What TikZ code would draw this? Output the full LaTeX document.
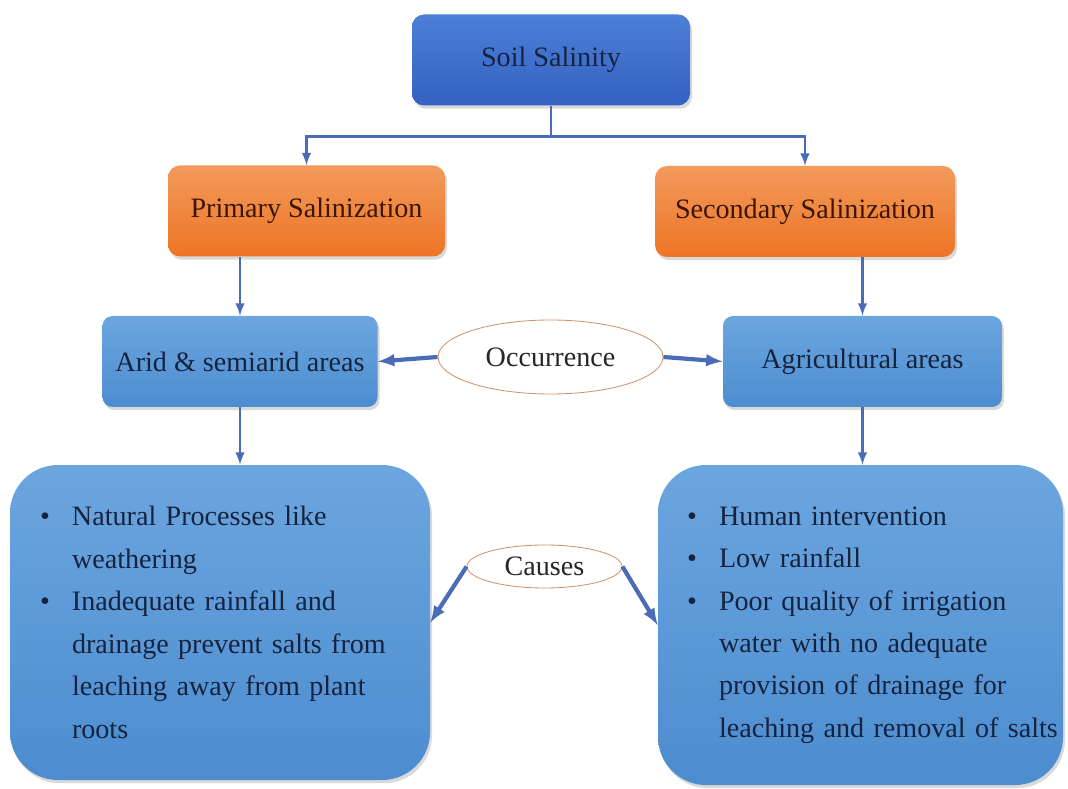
\documentclass[tikz,border=0pt]{standalone}
\usepackage{fontspec}
\setmainfont{Liberation Serif}
\usepackage{tikz}
\usetikzlibrary{arrows,shapes.geometric,shadows,calc}

\definecolor{linkblue}{HTML}{4A6CB8}
\definecolor{navy}{HTML}{16233F}
\definecolor{rust}{HTML}{3A1604}
\definecolor{rimorange}{HTML}{D39467}
\definecolor{roottop}{HTML}{4C7FD8}
\definecolor{rootbot}{HTML}{3461C2}
\definecolor{typetop}{HTML}{F29A5C}
\definecolor{typebot}{HTML}{EE7424}
\definecolor{areatop}{HTML}{6CA6DF}
\definecolor{areabot}{HTML}{4C8CCF}

\newcommand{\bul}{\makebox[0.8cm][l]{\textbullet}}
\newcommand{\ind}{\hspace*{0.8cm}}

\tikzset{
  box/.style={rounded corners=0.3cm, minimum height=2.275cm, text=navy,
    font=\fontsize{20}{30}\selectfont,
    drop shadow={opacity=0.3, shadow xshift=0.05cm, shadow yshift=-0.08cm}},
  rootbox/.style={box, top color=roottop, bottom color=rootbot, minimum width=6.95cm},
  typebox/.style={box, top color=typetop, bottom color=typebot, text=rust,
    minimum width=6.925cm},
  areabox/.style={box, rounded corners=0.25cm, top color=areatop, bottom color=areabot},
  listbox/.style={areabox, rounded corners=1.2cm, align=left,
    font=\fontsize{20}{30.2}\selectfont},
  tag/.style={ellipse, draw=rimorange, line width=0.6pt, fill=white, text=black!85,
    font=\fontsize{20}{30}\selectfont, inner sep=0pt},
  link/.style={linkblue, line width=2pt, -latex},
  thick link/.style={link, line width=3pt}
}

\begin{document}
\begin{tikzpicture}
\useasboundingbox (0cm,0cm) rectangle (26.7cm,-19.725cm);

% top of the tree
\node[rootbox] (soil) at (13.775cm,-1.5cm) {Soil Salinity};
\node[typebox] (prim) at (7.6625cm,-5.275cm) {Primary Salinization};
\node[typebox, minimum width=7.5cm] (sec) at (20.125cm,-5.2875cm) {Secondary Salinization};

% where it happens
\node[areabox, minimum width=6.875cm] (arid) at (6cm,-9.0375cm) {Arid \& semiarid areas};
\node[areabox, minimum width=6.975cm] (agri) at (21.5625cm,-9.0375cm) {Agricultural areas};
\node[tag, minimum width=5.625cm, minimum height=1.85cm] (occ) at (13.7625cm,-8.925cm) {Occurrence};

% why it happens
\node[listbox, minimum width=10.5cm, minimum height=7.875cm, text width=9cm] (natural) at (5.5cm,-15.5625cm)
  {\bul Natural Processes like\\ \ind weathering\\
   \bul Inadequate rainfall and\\ \ind drainage prevent salts from\\
   \ind leaching away from plant\\ \ind roots};
\node[listbox, minimum width=10.125cm, minimum height=8cm, text width=8.675cm] (human) at (21.5125cm,-15.625cm)
  {\bul Human intervention\\ \bul Low rainfall\\
   \bul Poor quality of irrigation\\ \ind water with no adequate\\
   \ind provision of drainage for\\ \ind\mbox{leaching and removal of salts}};
\node[tag, minimum width=3.875cm, minimum height=1.075cm] (causes) at (13.6125cm,-14.1625cm) {Causes};

% connectors
\coordinate (split) at ($(soil.south)+(0,-0.775cm)$);
\draw[linkblue, line width=2pt] (soil.south) -- (split);
\draw[link] (split) -| (prim.north);
\draw[link] (split) -| (sec.north);
\draw[link] (arid.north |- prim.south) -- (arid.north);
\draw[link] (agri.north |- sec.south) -- (agri.north);
\draw[thick link] (occ.west) -- (arid.east);
\draw[thick link] (occ.east) -- (agri.west);
\draw[link] (arid.south) -- (arid.south |- natural.north);
\draw[link] (agri.south) -- (agri.south |- human.north);
\draw[thick link] (causes.west) -- (natural.east);
\draw[thick link] (causes.east) -- (human.west);
\end{tikzpicture}
\end{document}
